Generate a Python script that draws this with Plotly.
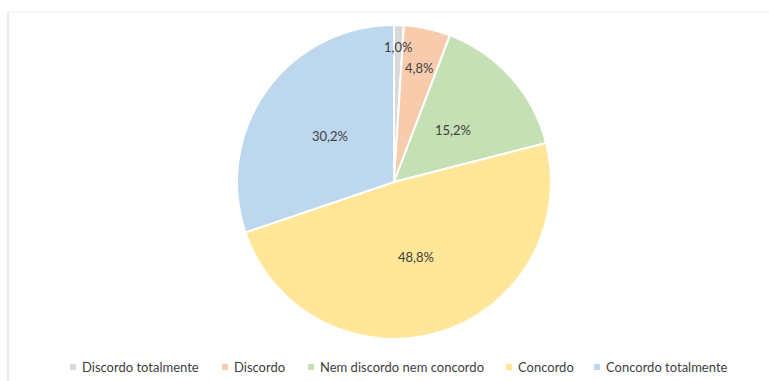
import math
import plotly.graph_objects as go

# Response categories and their shares (%)
categories = ["Discordo totalmente", "Discordo", "Nem discordo nem concordo",
              "Concordo", "Concordo totalmente"]
shares = [1.0, 4.8, 15.2, 48.8, 30.2]
colors = ["#D9D9D9", "#F8CBAD", "#C5E0B4", "#FFE699", "#BDD7EE"]

W, H = 769, 381
CX, CY, R = 394, 182, 157          # pie centre and radius in pixels
label_radius = [0.86, 0.74, 0.50, 0.50, 0.50]   # label distance as fraction of R

# Legend layout (pixels): left edge of each key square and the row's centre line
legend_key_x = [70, 222, 308, 506, 594]
LEGEND_Y = 367
KEY = 6

FONT = "Lato, Open Sans, sans-serif"
TEXT_COLOR = "#404040"

fig = go.Figure(go.Pie(
    labels=categories,
    values=shares,
    sort=False,
    direction="clockwise",
    rotation=0,
    marker=dict(colors=colors, line=dict(color="white", width=2)),
    textinfo="none",
    hoverinfo="skip",
    showlegend=False,
    domain=dict(x=[(CX - R) / W, (CX + R) / W], y=[1 - (CY + R) / H, 1 - (CY - R) / H]),
))

# Percentage labels placed at the mid-angle of each slice
total = sum(shares)
cum = 0.0
for v, f in zip(shares, label_radius):
    mid = (cum + v / 2) / total * 2 * math.pi
    cum += v
    px = CX + f * R * math.sin(mid)
    py = CY - f * R * math.cos(mid)
    fig.add_annotation(
        x=px / W, y=1 - py / H, xref="paper", yref="paper",
        xanchor="center", yanchor="middle",
        text=f"{v:.1f}%".replace(".", ","), showarrow=False,
        font=dict(family=FONT, size=13, color=TEXT_COLOR),
    )

# Legend row: small colour key followed by the category name
for name, col, kx in zip(categories, colors, legend_key_x):
    fig.add_shape(type="rect", xref="paper", yref="paper",
                  x0=kx / W, x1=(kx + KEY) / W,
                  y0=1 - (LEGEND_Y + KEY / 2) / H, y1=1 - (LEGEND_Y - KEY / 2) / H,
                  fillcolor=col, line=dict(width=0))
    fig.add_annotation(x=(kx + KEY + 4) / W, y=1 - LEGEND_Y / H, xref="paper", yref="paper",
                       xanchor="left", yanchor="middle", text=name, showarrow=False,
                       font=dict(family=FONT, size=13, color=TEXT_COLOR))

# Faint chart-area frame on the left and top
fig.add_shape(type="line", xref="paper", yref="paper",
              x0=8 / W, x1=8 / W, y0=0, y1=1 - 12 / H,
              line=dict(color="#D9D9D9", width=1))
fig.add_shape(type="line", xref="paper", yref="paper",
              x0=8 / W, x1=1, y0=1 - 12 / H, y1=1 - 12 / H,
              line=dict(color="#F0F0F0", width=1))

fig.update_layout(
    width=W, height=H,
    margin=dict(l=0, r=0, t=0, b=0),
    paper_bgcolor="white", plot_bgcolor="white",
)

fig.write_html("out.html")
